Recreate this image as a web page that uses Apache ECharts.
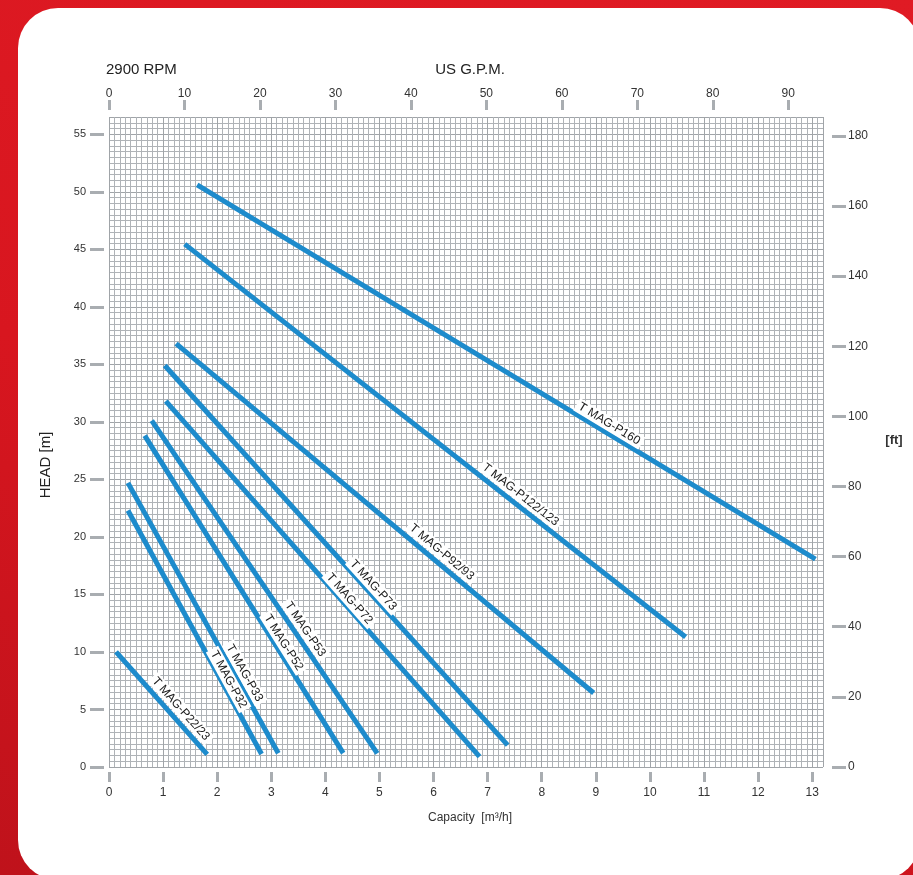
<!DOCTYPE html>
<html><head><meta charset="utf-8">
<script src="https://cdn.jsdelivr.net/npm/echarts@6/dist/echarts.min.js"></script>
<style>
html,body{margin:0;padding:0;width:913px;height:875px;overflow:hidden;}
body{background:linear-gradient(200deg,#e01b24 0%,#d8161f 55%,#bf121b 100%);}
#card{position:absolute;left:18px;top:8px;width:902px;height:872px;background:#fff;border-radius:40px;}
#chart{position:absolute;left:0;top:0;width:913px;height:875px;}
</style></head><body>
<div id="card"></div><div id="chart"></div>
<script>
// ---- data ----
const pumpNames = ['T MAG-P160','T MAG-P122/123','T MAG-P92/93','T MAG-P73','T MAG-P72','T MAG-P53','T MAG-P52','T MAG-P33','T MAG-P32','T MAG-P22/23'];
const capacityStart = [1.63, 1.40, 1.24, 1.03, 1.05, 0.79, 0.66, 0.35, 0.35, 0.13];
const headStart     = [50.6, 45.45, 36.8, 34.9, 31.8, 30.1, 28.8, 24.7, 22.3, 10.0];
const capacityEnd   = [13.06, 10.66, 8.96, 7.37, 6.85, 4.96, 4.33, 3.13, 2.82, 1.815];
const headEnd       = [18.06, 11.3, 6.43, 1.9, 0.9, 1.19, 1.2, 1.19, 1.13, 1.1];

const capacityTickMax = 13, capacityTickStep = 1;   // 0..13 m3/h
const gpmTickMax = 90, gpmTickStep = 10;            // 0..90 US GPM
const headTickMax = 55, headTickStep = 5;           // 0..55 m
const ftTickMax = 180, ftTickStep = 20;             // 0..180 ft

// ---- layout / style ----
const labelT = [0.659, 0.658, 0.62, 0.592, 0.569, 0.644, 0.665, 0.72, 0.708, 0.625];
const labelD = [9, 10, 10.5, 7.5, 7, 10, 8, 9.5, 7, 10.5];
const W = 913, H = 875;
const GL = 109, GR = 90, GT = 117, GB = 108;
const CAP_MAX = 13.2, HEAD_MAX = 56.5;
const GPM_PER_CAP = 7.167, FT_PER_M = 3.28084;
const plotW = W - GL - GR, plotH = H - GT - GB;
const pxPerCap = plotW / CAP_MAX, pxPerM = plotH / HEAD_MAX;
const tickColor = '#a9adb1';
const lineBlue = '#1d8bcc';
const FONT = '"Liberation Sans", Arial, sans-serif';

const chart = echarts.init(document.getElementById('chart'), null, {renderer:'canvas'});

function hiddenAxis(gi){ return {type:'value', gridIndex:gi, show:false, min:0, max:1}; }
function gridAxis(gi, max, interval, color, pos){
  return {type:'value', gridIndex:gi, min:0, max:max, interval:interval, position:pos,
    axisLine:{show:false}, axisTick:{show:false}, axisLabel:{show:false},
    splitLine:{show:true, lineStyle:{color:color, width:1}}};
}
function tickAxis(gi, max, interval, pos, offset, len, margin, fs){
  return {type:'value', gridIndex:gi, min:0, max:max, interval:interval, position:pos, offset:offset,
    axisLine:{show:true, onZero:false, lineStyle:{color:'rgba(0,0,0,0)', width:0}},
    splitLine:{show:false},
    axisTick:{show:true, length:len, lineStyle:{color:tickColor, width:3}},
    axisLabel:{margin:margin, color:'#333', fontSize:fs, fontFamily:FONT}};
}

const series = pumpNames.map((n,i)=>({
  type:'line', name:n, xAxisIndex:0, yAxisIndex:0,
  data:[[capacityStart[i], headStart[i]],[capacityEnd[i], headEnd[i]]],
  symbol:'none', silent:true, z:5,
  lineStyle:{color:lineBlue, width:5, cap:'butt'}
}));

chart.setOption({
  animation:false,
  backgroundColor:'transparent',
  grid:[
    {left:GL, right:GR, top:GT, bottom:GB},                                        // 0 data
    {left:GL, width:capacityTickMax*pxPerCap, top:GT, bottom:GB},                   // 1 capacity ticks
    {left:GL, width:gpmTickMax*pxPerCap/GPM_PER_CAP, top:GT, bottom:GB},            // 2 gpm ticks
    {left:GL, right:GR, top:GT+(HEAD_MAX-headTickMax)*pxPerM, bottom:GB},           // 3 head ticks
    {left:GL, right:GR, top:GT+(HEAD_MAX-ftTickMax/FT_PER_M)*pxPerM, bottom:GB}     // 4 ft ticks
  ],
  xAxis:[
    gridAxis(0, CAP_MAX, 0.1, '#afb3b7', 'bottom'),
    gridAxis(0, CAP_MAX, 1, '#a0a4a8', 'top'),
    tickAxis(1, capacityTickMax, capacityTickStep, 'bottom', 5, 10, 15, 12),
    tickAxis(2, gpmTickMax, gpmTickStep, 'top', 7, 10, 10, 12),
    hiddenAxis(3),
    hiddenAxis(4)
  ],
  yAxis:[
    gridAxis(0, HEAD_MAX, 0.5, '#afb3b7', 'left'),
    gridAxis(0, HEAD_MAX, 5, '#a0a4a8', 'right'),
    hiddenAxis(1),
    hiddenAxis(2),
    tickAxis(3, headTickMax, headTickStep, 'left', 5, 14, 18, 11),
    tickAxis(4, ftTickMax, ftTickStep, 'right', 9, 14, 16, 12)
  ],
  series: series
});

// ---- titles & along-line labels ----
const g = [
  {type:'text', x:106, y:70, style:{text:'2900 RPM', font:'15px '+FONT, fill:'#222', align:'left', verticalAlign:'middle'}},
  {type:'text', x:470, y:70, style:{text:'US G.P.M.', font:'15px '+FONT, fill:'#222', align:'center', verticalAlign:'middle'}},
  {type:'text', x:46, y:465, rotation:Math.PI/2, style:{text:'HEAD [m]', font:'15px '+FONT, fill:'#222', align:'center', verticalAlign:'middle'}},
  {type:'text', x:894, y:440, style:{text:'[ft]', font:'bold 13px '+FONT, fill:'#333', align:'center', verticalAlign:'middle'}},
  {type:'text', x:470, y:818, style:{text:'Capacity  [m\u00B3/h]', font:'12px '+FONT, fill:'#333', align:'center', verticalAlign:'middle'}}
];
pumpNames.forEach((n,i)=>{
  const p1 = chart.convertToPixel({xAxisIndex:0, yAxisIndex:0}, [capacityStart[i], headStart[i]]);
  const p2 = chart.convertToPixel({xAxisIndex:0, yAxisIndex:0}, [capacityEnd[i], headEnd[i]]);
  const dx = p2[0]-p1[0], dy = p2[1]-p1[1], L = Math.hypot(dx,dy);
  const ux = dx/L, uy = dy/L, nx = uy, ny = -ux;
  const t = labelT[i], d = labelD[i];
  const cx = p1[0] + t*dx + d*nx, cy = p1[1] + t*dy + d*ny;
  g.push({type:'text', x:cx, y:cy, rotation:-Math.atan2(dy,dx), z:10,
    style:{text:n, font:'12px '+FONT, fill:'#1a1a1a', align:'center', verticalAlign:'middle',
      backgroundColor:'#fff', padding:[1,3]}});
});
chart.setOption({graphic:g});
</script>
</body></html>
